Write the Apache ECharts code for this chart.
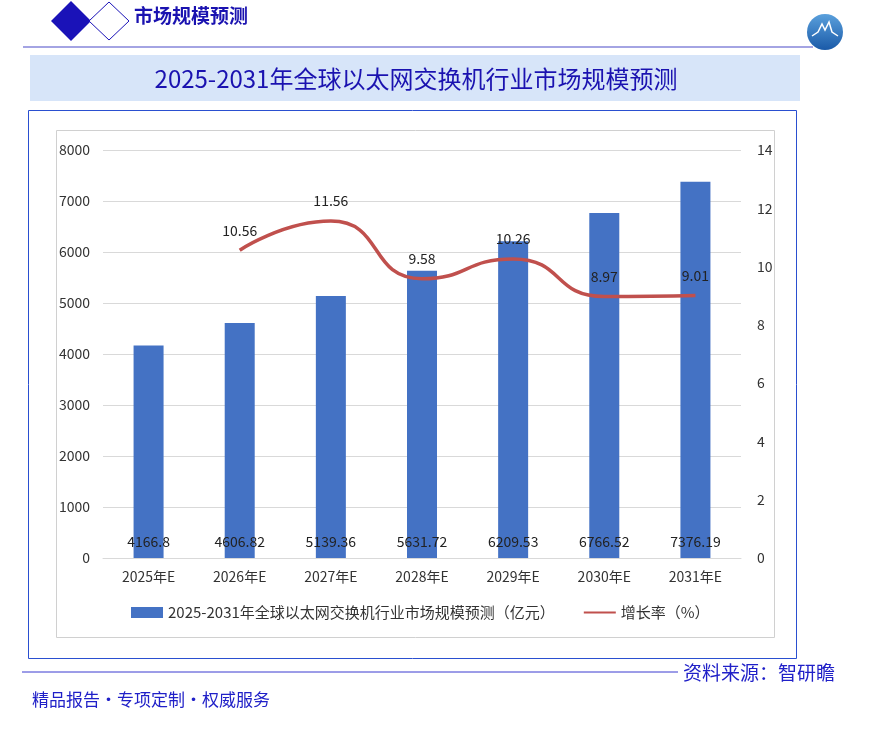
<!DOCTYPE html>
<html><head><meta charset="utf-8">
<script src="https://cdn.jsdelivr.net/npm/echarts@6/dist/echarts.min.js"></script>
<style>html,body{margin:0;padding:0;background:#fff;}#c{width:873px;height:731px;}</style>
</head><body><div id="c"></div>
<script>
const categories = ['2025年E','2026年E','2027年E','2028年E','2029年E','2030年E','2031年E'];
const marketSize = [4166.8, 4606.82, 5139.36, 5631.72, 6209.53, 6766.52, 7376.19];
const growthRate = [null, 10.56, 11.56, 9.58, 10.26, 8.97, 9.01];
const barName = '2025-2031年全球以太网交换机行业市场规模预测（亿元）';
const lineName = '增长率（%）';
const chartTitle = '2025-2031年全球以太网交换机行业市场规模预测';
const headerText = '市场规模预测';
const sourceText = '资料来源：智研瞻';
const sloganText = '精品报告·专项定制·权威服务';

const FONT = '"Noto Sans CJK SC","Noto Sans",sans-serif';
const chart = echarts.init(document.getElementById('c'));
chart.setOption({
  backgroundColor: '#fff',
  textStyle: {fontFamily: FONT},
  graphic: [
    {type:'polygon', shape:{points:[[71,1],[91,21],[71,41],[51,21]]}, style:{fill:'#1a12b8'}},
    {type:'polygon', shape:{points:[[109,2],[129,21],[109,40],[89,21]]}, style:{fill:'#fff', stroke:'#1a12b8', lineWidth:1}},
    {type:'text', left:134, top:6, style:{text:headerText, fill:'#1a12b0', font:'bold 19px '+FONT}},
    {type:'line', shape:{x1:23,y1:47,x2:813,y2:47}, style:{stroke:'#4a4ac8', lineWidth:1.2}},
    {type:'circle', shape:{cx:825,cy:32,r:18}, style:{fill:new echarts.graphic.LinearGradient(0,0,0,1,[{offset:0,color:'#5aa0dc'},{offset:1,color:'#1a5aa8'}])}},
    {type:'polyline', shape:{points:[[812,36],[818,32],[822,24],[825,30],[829,22],[832,32],[838,36]]}, style:{stroke:'#fff', fill:null, lineWidth:1.5}},
    {type:'rect', shape:{x:30,y:55,width:770,height:46}, style:{fill:'#d7e5f9'}},
    {type:'text', x:416, y:79, style:{text:chartTitle, fill:'#1a12b0', font:'24px '+FONT, align:'center', verticalAlign:'middle'}},
    {type:'rect', shape:{x:28.5,y:110.5,width:768,height:548}, style:{fill:null, stroke:'#2a4fd0', lineWidth:1}},
    {type:'rect', shape:{x:56.5,y:130.5,width:718,height:507}, style:{fill:null, stroke:'#d0d0d0', lineWidth:1}},
    {type:'line', shape:{x1:22,y1:672,x2:678,y2:672}, style:{stroke:'#3a3ad0', lineWidth:1}},
    {type:'text', x:683, y:673, style:{text:sourceText, fill:'#2020c8', font:'19px '+FONT, verticalAlign:'middle'}},
    {type:'text', x:32, y:700, style:{text:sloganText, fill:'#2020c8', font:'17px '+FONT, verticalAlign:'middle'}}
  ],
  grid: {left:103, right:132, top:150, bottom:173},
  legend: {
    bottom: 106, left: 126,
    itemWidth: 32, itemHeight: 11, itemGap: 28,
    textStyle: {fontSize: 15, color:'#333', fontFamily: FONT},
    data: [{name: barName, icon:'rect'}, {name: lineName}]
  },
  xAxis: {
    type:'category', data: categories,
    axisLine:{lineStyle:{color:'#d9d9d9'}}, axisTick:{show:false},
    axisLabel:{color:'#333', fontSize:14, margin:12}
  },
  yAxis: [
    {type:'value', min:0, max:8000, interval:1000,
     axisLabel:{color:'#333', fontSize:14, margin:13, formatter: v => String(v)},
     axisLine:{show:false}, axisTick:{show:false},
     splitLine:{lineStyle:{color:'#d9d9d9'}}},
    {type:'value', min:0, max:14, interval:2,
     axisLabel:{color:'#333', fontSize:14, margin:16},
     axisLine:{show:false}, axisTick:{show:false}, splitLine:{show:false}}
  ],
  series: [
    {name: barName, type:'bar', data: marketSize, barWidth:30,
     itemStyle:{color:'#4472c4'},
     label:{show:true, position:'insideBottom', distance:9, color:'#222', fontSize:14}},
    {name: lineName, type:'line', yAxisIndex:1, data: growthRate, smooth:0.55,
     symbol:'circle', symbolSize:2, showSymbol:true,
     lineStyle:{color:'#c0504d', width:3.5}, itemStyle:{color:'rgba(0,0,0,0)', borderWidth:0},
     label:{show:true, position:'top', distance:12, color:'#222', fontSize:14}}
  ]
});
</script></body></html>
